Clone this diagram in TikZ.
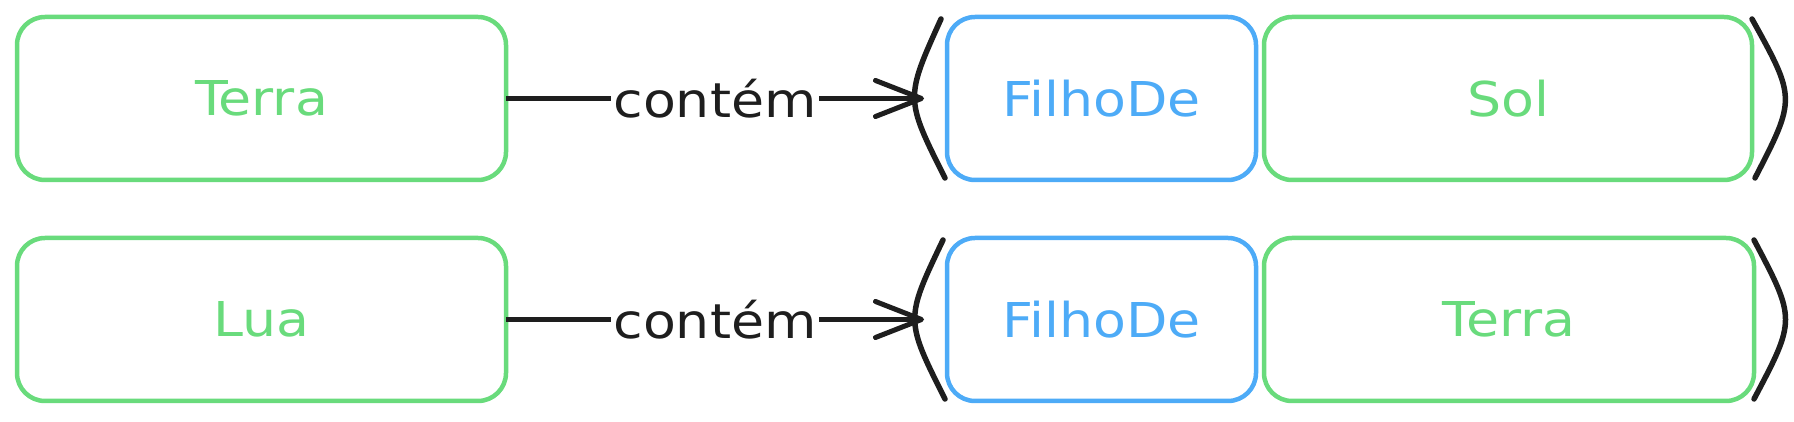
\documentclass[tikz,border=0pt]{standalone}
\usepackage{fontspec}
\setmainfont{DejaVu Sans}[FakeStretch=1.12]
\usetikzlibrary{arrows.meta,positioning,calc}
\definecolor{exgreen}{HTML}{69DB7C}
\definecolor{exblue}{HTML}{4DABF7}
\definecolor{exink}{HTML}{1E1E1E}

\begin{document}
\begin{tikzpicture}[
  x=1pt, y=1pt,
  font=\fontsize{48pt}{56pt}\selectfont,
  box/.style={draw, line width=4.5pt, rounded corners=28pt, minimum height=163pt, outer sep=0pt, inner sep=0pt},
  gbox/.style={box, draw=exgreen, text=exgreen},
  bbox/.style={box, draw=exblue, text=exblue},
  paren/.style={draw=exink, line width=5.5pt, line cap=round},
  conn/.style={exink, line width=5pt, -{Straight Barb[length=46pt, width=36pt, line width=5pt, round]}},
  lbl/.style={fill=white, text=exink, inner sep=2pt}
]
\useasboundingbox (0,0) rectangle (1794,422);

% row 1
\node[gbox, minimum width=489pt] (terra1) at (261.5,323.5) {Terra};
\node[bbox, minimum width=309pt, right=441pt of terra1] (fil1) {FilhoDe};
\node[gbox, minimum width=488pt, right=8pt of fil1] (sol) {Sol};

% row 2
\node[gbox, minimum width=489pt, below=58pt of terra1] (lua) {Lua};
\node[bbox, minimum width=309pt, right=441pt of lua] (fil2) {FilhoDe};
\node[gbox, minimum width=490pt, right=8pt of fil2] (terra2) {Terra};

\coordinate (lp1) at ($(fil1.west)+(-23,0)$);
\coordinate (rp1) at ($(sol.east)+(24,0)$);
\coordinate (lp2) at ($(fil2.west)+(-23,0)$);
\coordinate (rp2) at ($(terra2.east)+(22,0)$);

\draw[paren] ($(fil1.north west)+(-6,-2)$) .. controls ($(lp1)+(-19,0)$) .. ($(fil1.south west)+(-2,2)$);
\draw[paren] ($(sol.north east)+(0,-2)$) .. controls ($(rp1)+(20,0)$) .. ($(sol.south east)+(3,2)$);
\draw[paren] ($(fil2.north west)+(-4,-2)$) .. controls ($(lp2)+(-19,0)$) .. ($(fil2.south west)+(-2,2)$);
\draw[paren] ($(terra2.north east)+(0,-2)$) .. controls ($(rp2)+(20,0)$) .. ($(terra2.south east)+(0,2)$);

\draw[conn] (terra1) -- (lp1) node[midway, lbl] {contém};
\draw[conn] (lua) -- (lp2) node[midway, lbl] {contém};

\end{tikzpicture}
\end{document}
